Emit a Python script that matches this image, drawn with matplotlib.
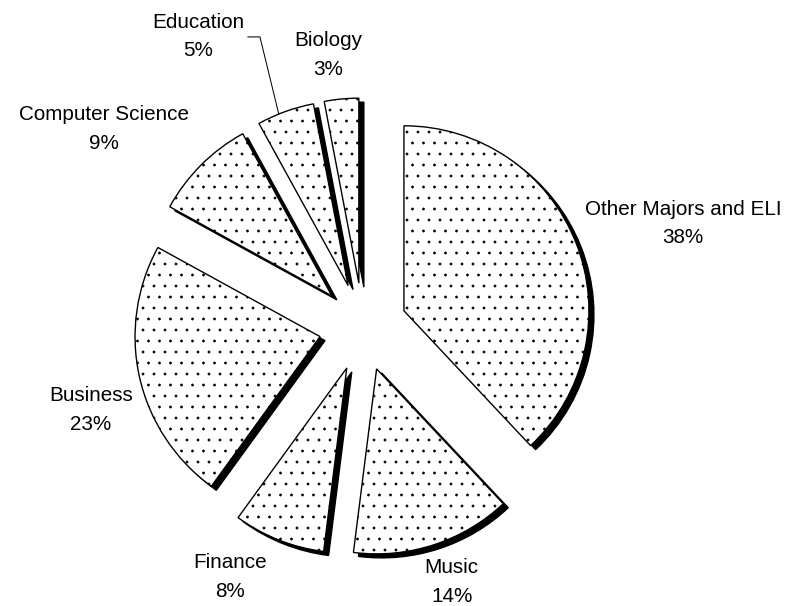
import matplotlib
matplotlib.use("Agg")
import matplotlib.pyplot as plt
import numpy as np

# values (clockwise from 12 o'clock)
majors = ["Other Majors and ELI", "Music", "Finance", "Business",
          "Computer Science", "Education", "Biology"]
percents = [38, 14, 8, 23, 9, 5, 3]

# label centres in pie-radius units (placed by hand in the original)
label_pos = [(1.73, 0.56), (0.48, -1.38), (-0.72, -1.35), (-1.47, -0.45),
             (-1.40, 1.07), (-0.89, 1.57), (-0.19, 1.47)]

DPI = 66          # at this dpi the '.' hatch spacing is ~11 px like the original
W, H = 786, 606
R_PX = 185.0      # pie radius in pixels
CX, CY = 363, 327 # pie centre in pixels (from top-left)

plt.rcParams['font.family'] = ['Liberation Sans', 'DejaVu Sans']
plt.rcParams['hatch.linewidth'] = 0.6

fig = plt.figure(figsize=(W / DPI, H / DPI), dpi=DPI)
ax = fig.add_axes([0, 0, 1, 1])

explode = [0.238] * len(percents)
shadow_dx, shadow_dy = 5 / R_PX, -4 / R_PX

# black drop shadow under every slice
ax.pie(percents, explode=explode, startangle=90, counterclock=False,
       center=(shadow_dx, shadow_dy), colors=['black'] * len(percents),
       wedgeprops=dict(edgecolor='black', linewidth=1.5))

wedges, _ = ax.pie(percents, explode=explode, startangle=90, counterclock=False,
                   colors=['white'] * len(percents),
                   wedgeprops=dict(edgecolor='black', linewidth=1.5, hatch='.'))

for name, pct, (lx, ly) in zip(majors, percents, label_pos):
    ax.text(lx, ly, f"{name}\n{pct}%", ha='center', va='center',
            fontsize=22.5, linespacing=1.65, color='black')

# leader line from the Education label to its slice
edu = wedges[majors.index("Education")]
ang = np.deg2rad(112)
ex = edu.center[0] + edu.r * np.cos(ang)
ey = edu.center[1] + edu.r * np.sin(ang)
ax.plot([-0.622, -0.557, ex], [1.568, 1.568, ey], color='black', lw=1.1)

ax.set_xlim(-CX / R_PX, (W - CX) / R_PX)
ax.set_ylim(-(H - CY) / R_PX, CY / R_PX)
ax.set_aspect('auto')
ax.axis('off')

fig.savefig('out.png', dpi=DPI)
